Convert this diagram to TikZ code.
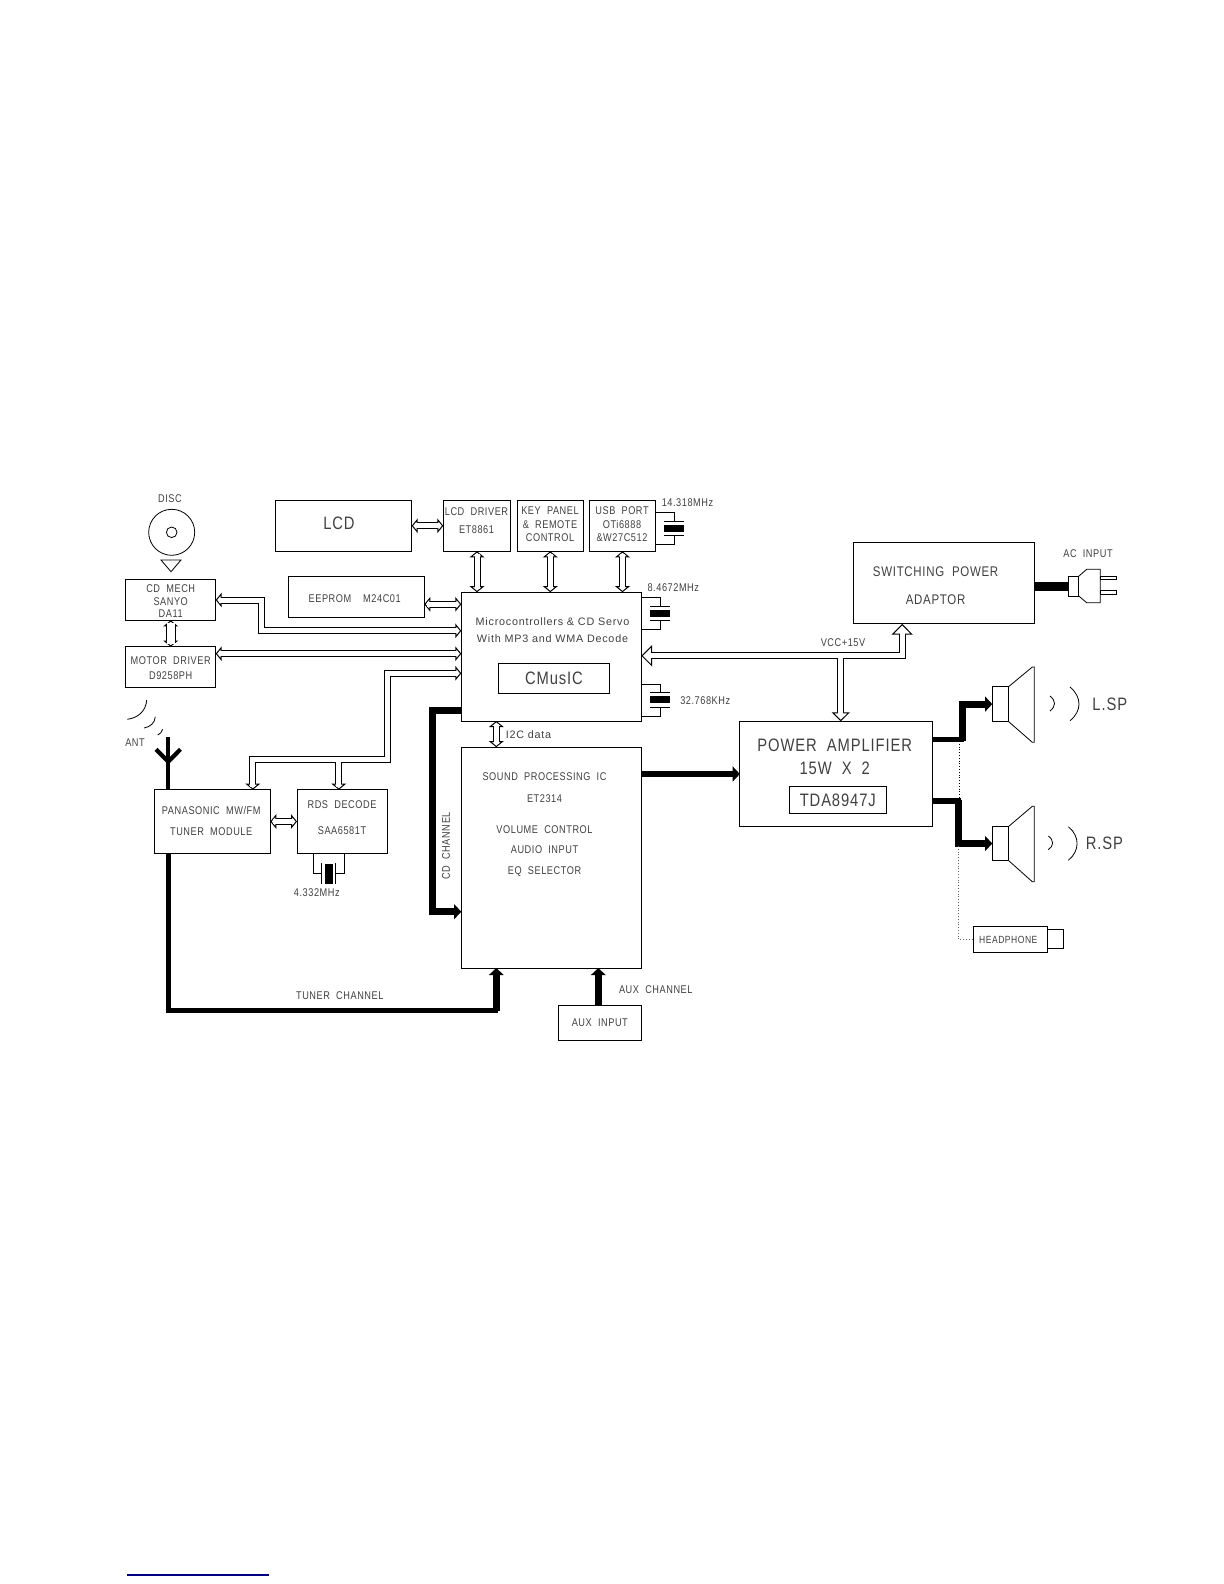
\documentclass[tikz,border=0pt]{standalone}
\usepackage{fontspec}
\setsansfont[LetterSpace=5,FakeStretch=.82,WordSpace=2]{Liberation Sans}
\newfontfamily\widefont[LetterSpace=7]{Liberation Sans}
\usetikzlibrary{arrows.meta}

\tikzset{
  blk/.style={draw, line width=.5pt, inner sep=0pt, outer sep=0pt, align=center, font=\smalltxt, text=black!75},
  lbl/.style={inner sep=0pt, align=center, font=\smalltxt, text=black!75},
  hollow/.style n args={3}{>={Triangle[length=#3,width=#2,line width=.5pt,fill=white]}, <->, line width=#1,
    postaction={draw=white, -, line width=#1-1pt, shorten >=.5*#3, shorten <=.5*#3}},
  hollowin/.style n args={3}{>={Triangle[length=#3,width=#2,line width=.5pt,fill=white]}, ->, line width=#1,
    postaction={draw=white, -, line width=#1-1pt, shorten >=.5*#3}},
  band/.style={line width=3.4pt, >={Triangle[length=3.6pt,width=7.4pt]}},
  thinband/.style={line width=2.3pt},
}
\newcommand{\smalltxt}{\sffamily\fontsize{5.6}{7}\selectfont}
\newcommand{\midtxt}{\sffamily\fontsize{7}{8}\selectfont}
\newcommand{\bigtxt}{\sffamily\fontsize{9}{10}\selectfont}

\begin{document}
\begin{tikzpicture}[x=.5pt,y=-.5pt]
  \useasboundingbox (0,0) rectangle (1224,1584);

  % blocks
  \node[blk, minimum width=45pt, minimum height=20.3pt] (cdmech) at (170.7,600) {};
  \node[blk, minimum width=45pt, minimum height=20.3pt] (motor) at (170.7,667) {};
  \node[blk, minimum width=68pt, minimum height=25.5pt] (lcd) at (343.7,525.8) {};
  \node[blk, minimum width=68pt, minimum height=20.2pt] (eeprom) at (356.3,596.8) {};
  \node[blk, minimum width=33.7pt, minimum height=25.5pt] (lcddrv) at (477,525.8) {};
  \node[blk, minimum width=33pt, minimum height=25.5pt] (keypanel) at (550.3,525.8) {};
  \node[blk, minimum width=32.8pt, minimum height=25.5pt] (usb) at (622.5,525.8) {};
  \node[blk, minimum width=90pt, minimum height=64.4pt] (uc) at (551.3,656.6) {};
  \node[blk, minimum width=55.7pt, minimum height=15pt, font=\bigtxt] (cmusic) at (554,678.3) {CMusIC};
  \node[blk, minimum width=90pt, minimum height=110.4pt] (sound) at (551.3,857.6) {};
  \node[blk, minimum width=41.5pt, minimum height=17.5pt] (auxin) at (599.8,1022.5) {AUX INPUT};
  \node[blk, minimum width=58pt, minimum height=31.8pt] (tuner) at (212.3,821.5) {};
  \node[blk, minimum width=45pt, minimum height=31.8pt] (rds) at (342,821.5) {};
  \node[blk, minimum width=90.6pt, minimum height=40.6pt] (smps) at (943.6,583.3) {};
  \node[blk, minimum width=96.2pt, minimum height=52.7pt] (amp) at (836.1,774) {};
  \node[blk, minimum width=48.5pt, minimum height=13.5pt, font=\bigtxt] (tda) at (837.8,799.8) {TDA8947J};
  \node[blk, minimum width=37pt, minimum height=12.8pt] (phone) at (1010.3,939.5) {};
  \node[blk, minimum width=8pt, minimum height=9.5pt] (phonejack) at (1055.3,938.8) {};
  \node[blk, minimum width=8pt, minimum height=17.2pt] (spkl) at (1000.3,704.1) {};
  \node[blk, minimum width=8pt, minimum height=16.8pt] (spkr) at (1000.3,843.5) {};

  % disc
  \node[circle, draw, line width=.4pt, minimum size=23pt, inner sep=0pt] (disc) at (171.7,532.3) {};
  \node[circle, draw, line width=.4pt, minimum size=5.3pt, inner sep=0pt] (dischub) at (171.7,532.3) {};
  \draw[line width=.4pt] (161,560) -- (181,560) -- (171,571.7) -- cycle;

  % texts
  \node[lbl] (disctxt) at (170,499) {DISC};
  \node[lbl] (cdmechtxt) at (170.7,601.2) {CD MECH\\[-.8pt]SANYO\\[-.8pt]DA11};
  \node[lbl] (motortxt) at (170.7,668.3) {MOTOR DRIVER\\[.8pt]D9258PH};
  \node[lbl, font=\bigtxt] (lcdtxt) at (339,523) {LCD};
  \node[lbl] (eepromtxt) at (354.7,598.6) {EEPROM\hspace{6pt}M24C01};
  \node[lbl] (lcddrvtxt) at (476.5,520.5) {LCD DRIVER\\[1.8pt]ET8861};
  \node[lbl] (keytxt) at (550,524.2) {KEY PANEL\\[-.2pt]\& REMOTE\\[-.2pt]CONTROL};
  \node[lbl] (usbtxt) at (622,524.2) {USB PORT\\[-.2pt]OTi6888\\[-.2pt]\&W27C512};
  \node[lbl, font=\widefont\fontsize{5.4}{7}\selectfont] (uctxt) at (552.5,630) {Microcontrollers \& CD Servo\\[1.8pt]With MP3 and WMA Decode};
  \node[lbl] (soundtxt) at (544.5,824.8) {SOUND PROCESSING IC\\[3.7pt]ET2314\\[8.8pt]VOLUME CONTROL\\[2.7pt]AUDIO INPUT\\[3.7pt]EQ SELECTOR};
  \node[lbl] (tunertxt) at (211.2,820.5) {PANASONIC MW/FM\\[3.5pt]TUNER MODULE};
  \node[lbl] (rdstxt) at (342,818) {RDS DECODE\\[6pt]SAA6581T};
  \node[lbl, font=\midtxt] (smpstxt) at (935.6,585.8) {SWITCHING POWER\\[6.2pt]ADAPTOR};
  \node[lbl, font=\bigtxt] (amptxt) at (834.7,756.5) {POWER AMPLIFIER\\[1.5pt]15W\hspace{5pt}X\hspace{5pt}2};
  \node[lbl, font=\sffamily\fontsize{5.2}{6}\selectfont] (phonetxt) at (1008.3,940) {HEADPHONE};
  \node[lbl] (anttxt) at (135,743) {ANT};
  \node[lbl] (acin) at (1088,554) {AC INPUT};
  \node[lbl] (vcc) at (843,642.3) {VCC+15V};
  \node[lbl, font=\widefont\fontsize{5.4}{7}\selectfont] (i2c) at (528.5,734.3) {I2C data};
  \node[lbl, rotate=90] (cdch) at (446,845.8) {CD CHANNEL};
  \node[lbl] (tunerch) at (339.8,995.3) {TUNER CHANNEL};
  \node[lbl] (auxch) at (655.8,990) {AUX CHANNEL};
  \node[lbl] (xa) at (687.5,503) {14.318MHz};
  \node[lbl] (xb) at (673.3,587.7) {8.4672MHz};
  \node[lbl] (xc) at (705.2,700.3) {32.768KHz};
  \node[lbl] (xd) at (316.8,893) {4.332MHz};
  \node[lbl, font=\bigtxt] (lsp) at (1109.8,704) {L.SP};
  \node[lbl, font=\bigtxt] (rsp) at (1104.5,843.3) {R.SP};

  % hollow buses
  \draw[hollow={3.5pt}{7.3pt}{3pt}] (lcd.east) -- (lcddrv.west);
  \draw[hollow={3.5pt}{7.3pt}{3pt}] (lcddrv.south) -- (lcddrv.south |- uc.north);
  \draw[hollow={3.5pt}{7.3pt}{3pt}] (keypanel.south) -- (keypanel.south |- uc.north);
  \draw[hollow={3.5pt}{7.3pt}{3pt}] (usb.south) -- (usb.south |- uc.north);
  \draw[hollow={3.5pt}{7.3pt}{3pt}] (eeprom.east |- 0,604.3) -- (uc.west |- 0,604.3);
  \draw[hollow={3.5pt}{7.3pt}{3pt}] (cdmech.east) -| (261.8,630.8) -- (uc.west |- 0,630.8);
  \draw[hollow={3.5pt}{7.3pt}{3pt}] (motor.east |- 0,653.7) -- (uc.west |- 0,653.7);
  \draw[hollow={5.2pt}{7.3pt}{3pt}] (cdmech.south) -- (motor.north);
  \draw[hollow={3.8pt}{7.3pt}{3pt}] (uc.south -| 496.3,0) -- (sound.north -| 496.3,0);
  \draw[hollow={3.6pt}{7.3pt}{3pt}] (tuner.east) -- (rds.west);
  \draw[hollow={3.5pt}{7.3pt}{3pt}] (uc.west |- 0,673.3) -- (387.2,673.3) |- (252.8,759.8) -- (tuner.north -| 252.8,0);
  \draw[hollowin={3.5pt}{7.3pt}{3pt}] (338.8,763.3) -- (rds.north -| 338.8,0);
  \draw[white, line width=2.5pt] (338.8,759.8) -- (338.8,765);
  \draw[hollow={3.5pt}{10.6pt}{5.4pt}] (uc.east |- 0,655.8) -| (smps.south -| 902.2,0);
  \draw[hollowin={3.5pt}{9pt}{4.5pt}] (840.8,659.3) -- (amp.north -| 840.8,0);
  \draw[white, line width=2.5pt] (840.8,655.8) -- (840.8,661);

  % audio paths
  \draw[band, ->] (uc.west |- 0,710.6) -| (432.7,911.7) -- (sound.west |- 0,911.7);
  \draw[band, ->] (sound.east |- amp.west) -- (amp.west);
  \draw[thinband] (tuner.south -| 168.3,0) |- (498,1010.3);
  \draw[band, ->] (496.3,1011.4) -- (sound.south -| 496.3,0);
  \draw[band, ->] (auxin.north -| 598.3,0) -- (sound.south -| 598.3,0);
  \draw[thinband, line width=2.6pt] (amp.east |- 0,739.3) -- (964,739.3);
  \draw[band, ->] (962.3,740.6) |- (spkl.west);
  \draw[thinband, line width=2.6pt] (amp.east |- 0,801) -- (960.5,801);
  \draw[band, ->] (958.8,799.8) |- (spkr.west);
  \draw[densely dotted, line width=.4pt] (959.3,741) -- (959.3,799);
  \draw[densely dotted, line width=.4pt, black!60] (958.7,846) |- (phone.west);

  % antenna
  \draw[line width=2.1pt] (tuner.north -| 168.3,0) -- (168.3,736.7);
  \draw[line width=2.1pt] (156,749.3) -- (168.3,761.7) -- (180.4,749.3);
  \draw[line width=.4pt] (146.7,700) .. controls (146,711) and (138,718) .. (127.3,719.3);
  \draw[line width=.4pt] (155.3,716.7) .. controls (155,723) and (150,727) .. (144,728);
  \draw[line width=.4pt] (162.7,729.3) .. controls (162,732) and (160,734) .. (157.7,735);

  % crystals
  \foreach \cx/\cy/\hh in {674.3/528.3/6.7, 660.3/613.5/6.8, 660.3/699.7/7.3} {
    \draw[line width=.5pt] (\cx-10,\cy-\hh) -- ++(20,0);
    \draw[line width=.5pt] (\cx-10,\cy+\hh) -- ++(20,0);
    \fill (\cx-10,\cy-3.7) rectangle (\cx+10,\cy+3.7);
  }
  \draw[line width=.5pt] (usb.east |- 0,512.3) -| (674.3,521.6);
  \draw[line width=.5pt] (usb.east |- 0,544.3) -| (674.3,535);
  \draw[line width=.5pt] (uc.east |- 0,597) -| (660.3,606.7);
  \draw[line width=.5pt] (uc.east |- 0,629.3) -| (660.3,620.3);
  \draw[line width=.5pt] (uc.east |- 0,684.3) -| (660.3,692.4);
  \draw[line width=.5pt] (uc.east |- 0,716.3) -| (660.3,707);
  \draw[line width=.5pt] (rds.south -| 313.3,0) |- (321.3,873.3);
  \draw[line width=.5pt] (rds.south -| 344.3,0) |- (335.3,873.3);
  \draw[line width=.5pt] (321.3,863.3) -- (321.3,883.7);
  \draw[line width=.5pt] (335.3,863.3) -- (335.3,883.7);
  \fill (325,863.7) rectangle (333,883.7);

  % speakers
  \draw[line width=.4pt] (spkl.north east) -- (1032.3,667) -- (1034.3,667) -- (1034.3,742.3) -- (1032.3,742.3) -- (spkl.south east);
  \draw[line width=.4pt] (spkr.north east) -- (1032.3,806.3) -- (1034.3,806.3) -- (1034.3,881.7) -- (1032.3,881.7) -- (spkr.south east);
  \draw[line width=.4pt] (1050,696) .. controls (1056,701) and (1056,706) .. (1050,711);
  \draw[line width=.4pt] (1070,687) .. controls (1082,697) and (1082,711) .. (1070,720.7);
  \draw[line width=.4pt] (1048.3,836) .. controls (1054,840) and (1054,846) .. (1048.3,849.7);
  \draw[line width=.4pt] (1068.3,826.7) .. controls (1080,836) and (1080,851) .. (1068.3,860.3);

  % ac plug
  \coordinate (plug) at (1068.3,586.3);
  \draw[line width=4.6pt] (smps.east |- plug) -- (plug);
  \draw[line width=.4pt] (1068.3,576.3) rectangle (1078.7,596);
  \draw[line width=.4pt] (1078.7,576.3) -- (1086.7,569.3) -- (1100.3,569.3) -- (1100.3,602.7) -- (1086.7,602.7) -- (1078.7,596);
  \draw[line width=.4pt] (1100.3,576) rectangle (1116,579.7);
  \draw[line width=.4pt] (1100.3,590) rectangle (1116,594);

  % line at the foot of the page
  \draw[line width=.6pt, blue!50!black] (127,1575) -- (269,1575);
\end{tikzpicture}
\end{document}
